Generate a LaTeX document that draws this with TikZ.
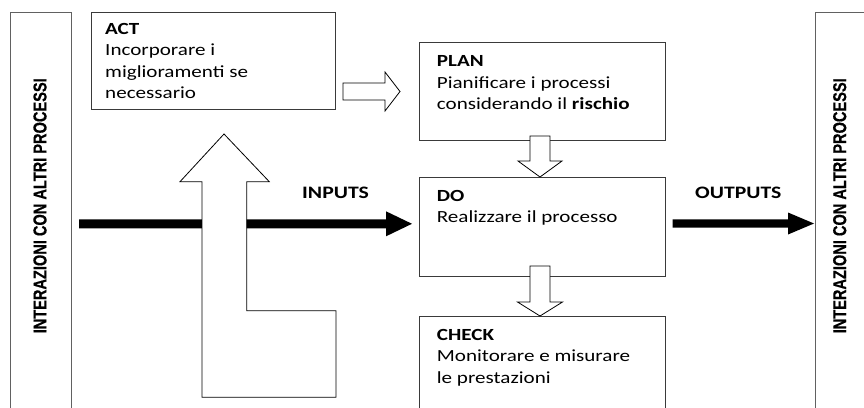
\documentclass[tikz,border=0pt]{standalone}
\usepackage{fontspec}
\setmainfont{Carlito}[FakeStretch=1.24]
\newfontfamily\sidefont{Liberation Sans Bold}[FakeBold=0.6]
\usetikzlibrary{calc}
\definecolor{edge}{HTML}{3A3A3A}
\tikzset{
  box/.style={draw=edge, line width=0.9pt, fill=white},
  panel/.style={draw=edge!80, line width=0.9pt},
  hollow/.style={draw=black, line width=0.8pt, fill=white, line join=miter},
  solidarrow/.style={fill=black},
  boxtext/.style={anchor=base west, inner sep=0pt, font=\fontsize{17}{21.5}\selectfont},
  flowlabel/.style={anchor=base west, inner sep=0pt, font=\fontsize{17.5}{21}\selectfont\bfseries},
  sidelabel/.style={inner sep=0pt, rotate=90}
}
\newcommand{\sidetext}{\resizebox{255pt}{13pt}{\sidefont INTERAZIONI CON ALTRI PROCESSI}}
\newcommand{\lines}[1]{\begin{tabular}[t]{@{}l@{}}#1\end{tabular}}
\begin{document}
\begin{tikzpicture}[x=1pt,y=-1pt]
\useasboundingbox (0,0) rectangle (864,407);
\clip (0,0) rectangle (864,407);
% side panels
\draw[panel] (10,410) -- (10,12) -- (71,12) -- (71,410);
\draw[panel] (815,410) -- (815,12) -- (866,12);
\node[sidelabel] (leftlabel) at (40,205.8) {\sidetext};
\node[sidelabel] (rightlabel) at (839.7,205.8) {\sidetext};
% boxes
\path[box] (91,12) rectangle (335,109);
\coordinate (act) at (213,60.5);
\path[box] (419,42) rectangle (665,140);
\coordinate (plan) at (542,91);
\path[box] (419,177) rectangle (665,276);
\coordinate (do) at (542,226.5);
\path[box] (419,316) rectangle (665,412);
\coordinate (check) at (542,362);
% texts
\node[boxtext] (acttext) at (105,34.3) {\lines{\textbf{ACT}\\Incorporare i\\miglioramenti se\\necessario}};
\node[boxtext] (plantext) at (436.7,66.7) {\lines{\textbf{PLAN}\\Pianificare i processi\\considerando il \textbf{rischio}}};
\node[boxtext] (dotext) at (436.7,201) {\lines{\textbf{DO}\\Realizzare il processo}};
\node[boxtext] (checktext) at (436.7,340) {\lines{\textbf{CHECK}\\Monitorare e misurare\\le prestazioni}};
% hollow arrows
\coordinate (a1) at (343,91.5);
\draw[hollow] (a1) ++(0,-8.5) -- ++(42,0) -- ++(0,-11) -- ++(15,19.5) -- ++(-15,19.5) -- ++(0,-11) -- ++(-42,0) -- cycle;
\coordinate (a2) at (540,136);
\draw[hollow] (a2) ++(-10,0) -- ++(0,25) -- ++(-12,0) -- ++(22,16) -- ++(22,-16) -- ++(-12,0) -- ++(0,-25) -- cycle;
\coordinate (a3) at (540,266);
\draw[hollow] (a3) ++(-10,0) -- ++(0,36) -- ++(-12.5,0) -- ++(22.5,14) -- ++(22.5,-14) -- ++(-12.5,0) -- ++(0,-36) -- cycle;
% solid arrows
\coordinate (in0) at (79,223.8);
\coordinate (in1) at (412,223.8);
\fill[solidarrow] (in0) ++(0,-4.5) -- ($(in1)+(-26,-4.5)$) -- ($(in1)+(-26,-12.5)$) -- (in1) -- ($(in1)+(-26,12.5)$) -- ($(in1)+(-26,4.5)$) -- ($(in0)+(0,4.5)$) -- cycle;
\coordinate (out0) at (672.7,223.5);
\coordinate (out1) at (814,223.5);
\fill[solidarrow] (out0) ++(0,-4.2) -- ($(out1)+(-26,-4.2)$) -- ($(out1)+(-26,-11)$) -- (out1) -- ($(out1)+(-26,11)$) -- ($(out1)+(-26,4.2)$) -- ($(out0)+(0,4.2)$) -- cycle;
% L-shaped feedback arrow
\draw[hollow] (202,397.3) -- (202,181.7) -- (180,181.7) -- (224,134) -- (269.3,181.7) -- (246.7,181.7) -- (246.7,310.7) -- (336,310.7) -- (336,397.3) -- cycle;
% labels
\node[flowlabel] (inputs) at (302,198.3) {INPUTS};
\node[flowlabel] (outputs) at (695,198.3) {OUTPUTS};
\end{tikzpicture}
\end{document}
